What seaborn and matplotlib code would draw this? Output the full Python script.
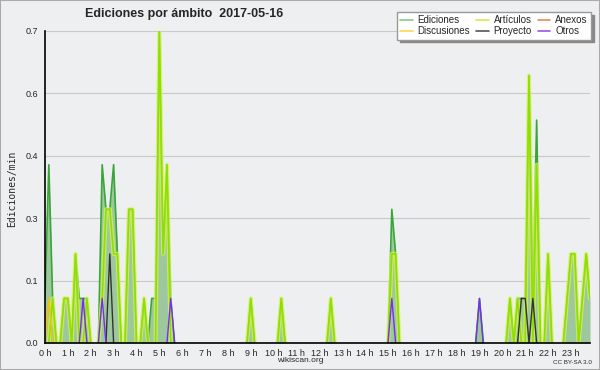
import numpy as np
import pandas as pd
import matplotlib
matplotlib.use("Agg")
import matplotlib.pyplot as plt
import seaborn as sns
from matplotlib.ticker import FixedLocator, MultipleLocator, FuncFormatter
from matplotlib.lines import Line2D
from matplotlib.patches import Rectangle

# -------------------------------
# DATA: edits per minute, 10 min buckets (144 per day)
# -------------------------------
hour_labels = [f"{h} h" for h in range(24)]

ediciones = [
    0.1, 0.4, 0.1, 0, 0, 0.1, 0.1, 0, 0.2, 0.1, 0.1, 0.1,
    0, 0, 0, 0.4, 0.3, 0.3, 0.4, 0.2, 0, 0, 0.3, 0.3,
    0, 0, 0.1, 0, 0.1, 0.1, 0.7, 0.2, 0.4, 0.1, 0, 0,
    0, 0, 0, 0, 0, 0, 0, 0, 0, 0, 0, 0,
    0, 0, 0, 0, 0, 0, 0.1, 0, 0, 0, 0, 0,
    0, 0, 0.1, 0, 0, 0, 0, 0, 0, 0, 0, 0,
    0, 0, 0, 0.1, 0, 0, 0, 0, 0, 0, 0, 0,
    0, 0, 0, 0, 0, 0, 0, 0.3, 0.2, 0, 0, 0,
    0, 0, 0, 0, 0, 0, 0, 0, 0, 0, 0, 0,
    0, 0, 0, 0, 0, 0, 0.1, 0, 0, 0, 0, 0,
    0, 0, 0.1, 0, 0.1, 0.1, 0.1, 0.6, 0.1, 0.5, 0, 0,
    0.2, 0, 0, 0, 0, 0.1, 0.2, 0.2, 0, 0.1, 0.2, 0.1,
]

articulos = [
    0, 0, 0.1, 0, 0, 0.1, 0.1, 0, 0.2, 0, 0, 0.1,
    0, 0, 0, 0.1, 0.3, 0.3, 0.2, 0.2, 0, 0, 0.3, 0.3,
    0, 0, 0.1, 0, 0, 0, 0.7, 0.2, 0.4, 0, 0, 0,
    0, 0, 0, 0, 0, 0, 0, 0, 0, 0, 0, 0,
    0, 0, 0, 0, 0, 0, 0.1, 0, 0, 0, 0, 0,
    0, 0, 0.1, 0, 0, 0, 0, 0, 0, 0, 0, 0,
    0, 0, 0, 0.1, 0, 0, 0, 0, 0, 0, 0, 0,
    0, 0, 0, 0, 0, 0, 0, 0.2, 0.2, 0, 0, 0,
    0, 0, 0, 0, 0, 0, 0, 0, 0, 0, 0, 0,
    0, 0, 0, 0, 0, 0, 0, 0, 0, 0, 0, 0,
    0, 0, 0.1, 0, 0.1, 0, 0, 0.6, 0, 0.4, 0, 0,
    0.2, 0, 0, 0, 0, 0.1, 0.2, 0.2, 0, 0.1, 0.2, 0.1,
]

# sparse series: bucket index -> value
discusiones_idx = [1]
discusiones_val = [0.1]
proyecto_idx = [17, 125, 126, 128]
proyecto_val = [0.2, 0.1, 0.1, 0.1]
otros_idx = [10, 15, 33, 91, 114]
otros_val = [0.1, 0.1, 0.1, 0.1, 0.1]


def sparse(idx, val, n=144):
    s = np.zeros(n)
    s[idx] = val
    return s


hours = np.arange(144) / 6.0
df = pd.DataFrame({
    "hora": hours,
    "Ediciones": ediciones,
    "Artículos": articulos,
    "Anexos": np.zeros(144),
    "Discusiones": sparse(discusiones_idx, discusiones_val),
    "Proyecto": sparse(proyecto_idx, proyecto_val),
    "Otros": sparse(otros_idx, otros_val),
})


def runs(name):
    # keep only the points that touch a non-zero value, split into runs
    v = df[name].to_numpy()
    nz = v > 0
    keep = nz | np.r_[nz[1:], False] | np.r_[False, nz[:-1]]
    out = pd.DataFrame({"hora": df["hora"], "val": v, "seg": np.cumsum(~keep)})
    return out[keep]


colors = {
    "Ediciones": "#3aa63a",
    "Artículos": "#8ee000",
    "Anexos": "#ee7744",
    "Discusiones": "#f2c200",
    "Proyecto": "#333333",
    "Otros": "#7a2cf0",
}
legend_colors = {
    "Ediciones": "#88cc88",
    "Artículos": "#ccee55",
    "Anexos": "#ee8855",
    "Discusiones": "#ffd455",
    "Proyecto": "#555555",
    "Otros": "#9955ee",
}

# -------------------------------
# STYLE
# -------------------------------
bg = "#eeeff1"
sns.set_style("white", rc={"axes.facecolor": bg, "figure.facecolor": bg})
plt.rcParams["font.family"] = ["Liberation Sans", "DejaVu Sans"]

fig = plt.figure(figsize=(6, 3.7), dpi=100)
ax = fig.add_axes([45 / 600, 27 / 370, 545 / 600, 312 / 370])

# -------------------------------
# PLOT
# -------------------------------
ax.fill_between(df["hora"], df["Ediciones"], 0, color="#9dc89d", lw=0, zorder=1)

line_kw = dict(x="hora", y="val", units="seg", estimator=None, ax=ax, legend=False)
sns.lineplot(data=runs("Ediciones"), color=colors["Ediciones"], lw=1.2, zorder=3, **line_kw)
sns.lineplot(data=runs("Artículos"), color="#d8f060", lw=3.0, alpha=0.75, zorder=4, **line_kw)
sns.lineplot(data=runs("Artículos"), color=colors["Artículos"], lw=1.2, zorder=5, **line_kw)
for name in ["Discusiones", "Proyecto", "Otros"]:
    sns.lineplot(data=runs(name), color=colors[name], lw=1.0, zorder=6, **line_kw)

# -------------------------------
# AXES
# -------------------------------
ax.set_xlim(0, 143 / 6)
ax.set_ylim(0, 0.7)
ax.set_xlabel("")
ax.set_ylabel("")

ax.xaxis.set_major_locator(FixedLocator(range(24)))
ax.set_xticklabels(hour_labels)
ax.xaxis.set_minor_locator(MultipleLocator(1 / 6))
ax.yaxis.set_major_locator(FixedLocator(np.linspace(0, 0.7, 6)))
ax.yaxis.set_minor_locator(FixedLocator(np.linspace(0, 0.7, 21)))
ax.yaxis.set_major_formatter(FuncFormatter(lambda v, p: f"{v:.1f}"))

ax.tick_params(axis="x", which="both", direction="out", length=3.5, width=0.8,
               color="black", labelsize=6.5, pad=1)
ax.tick_params(axis="y", which="major", direction="out", length=4, width=0.8,
               color="black", labelsize=6.5, pad=1)
ax.tick_params(axis="y", which="minor", direction="out", length=2.5, width=0.8, color="black")

ax.grid(axis="y", which="major", color="#c9c9c9", lw=0.8)
ax.set_axisbelow(True)
for s in ["top", "right"]:
    ax.spines[s].set_visible(False)
for s in ["left", "bottom"]:
    ax.spines[s].set_color("black")
    ax.spines[s].set_linewidth(1.2)
    ax.spines[s].set_zorder(10)

# -------------------------------
# TEXT
# -------------------------------
fig.text(85 / 600, 1 - 14 / 370, "Ediciones por ámbito  2017-05-16",
         ha="left", va="center", fontsize=9, fontweight="bold")
fig.text(12 / 600, 1 - 189 / 370, "Ediciones/min", rotation=90,
         ha="center", va="center", fontsize=7, family="DejaVu Sans Mono")
fig.text(300 / 600, 1 - 361 / 370, "wikiscan.org", ha="center", va="center", fontsize=6)
fig.text(592 / 600, 1 - 362 / 370, "CC BY-SA 3.0", ha="right", va="center", fontsize=4.5)

# legend
order = ["Ediciones", "Discusiones", "Artículos", "Proyecto", "Anexos", "Otros"]
handles = [Line2D([0], [0], color=legend_colors[n], lw=1.2) for n in order]
fig.legend(handles, order, loc="upper right", bbox_to_anchor=(596 / 600, 1 - 7 / 370),
           ncol=3, fontsize=7, frameon=True, fancybox=False, edgecolor="#999999",
           facecolor="white", framealpha=1, shadow={"color": "#888888", "alpha": 1},
           handlelength=1.3, handletextpad=0.5, columnspacing=0.6,
           borderpad=0.35, labelspacing=0.1)

fig.patches.append(Rectangle((0, 0), 1, 1, transform=fig.transFigure, fill=False,
                             edgecolor="#aaaaaa", lw=1.5, zorder=10))

fig.savefig("out.png", dpi=100, facecolor=bg)
